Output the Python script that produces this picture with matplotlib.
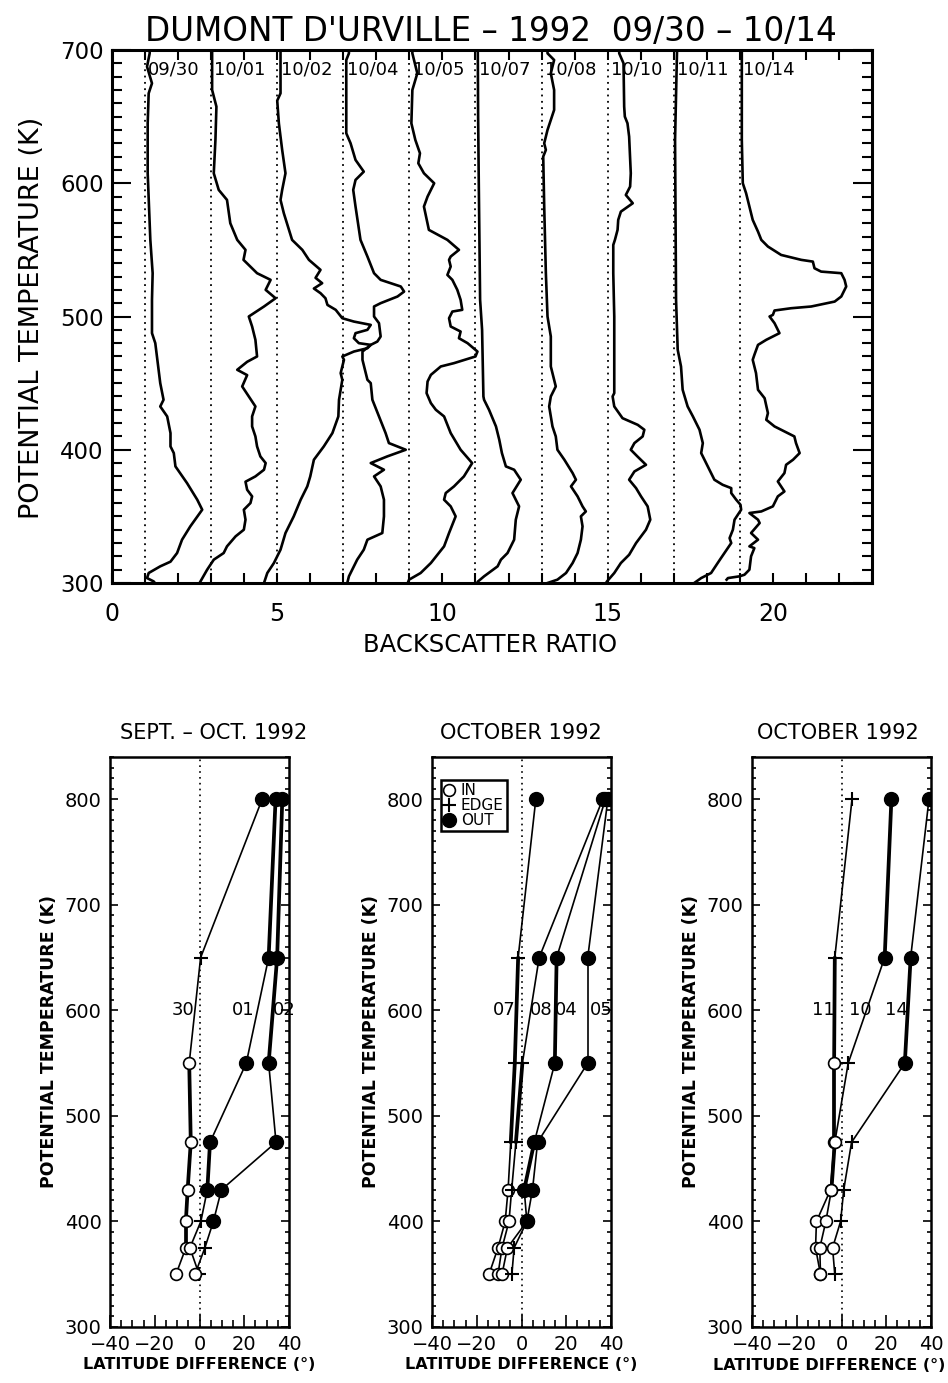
import matplotlib.pyplot as plt
from matplotlib.ticker import MultipleLocator
from matplotlib.lines import Line2D

plt.rcParams['font.family'] = ['DejaVu Sans']

# ---- top panel: backscatter ratio profiles (each shifted by 2) ----
dates = ["09/30", "10/01", "10/02", "10/04", "10/05", "10/07", "10/08", "10/10", "10/11", "10/14"]

th_0930 = [700, 697.5, 687.5, 675, 667.5, 645, 607.5, 557.5, 532.5, 512.5, 487.5, 480, 450, 437.5, 432.5,
           425, 412.5, 402.5, 397.5, 387.5, 375, 362.5, 355, 342.5, 332.5, 322.5, 316, 312.5, 307.5, 303.7,
           301.2, 300]
r_0930 = [1.14, 1.14, 1.06, 1.21, 1.11, 1.08, 1.08, 1.16, 1.23, 1.21, 1.21, 1.31, 1.46, 1.56, 1.46,
          1.67, 1.77, 1.77, 1.87, 1.92, 2.27, 2.58, 2.73, 2.37, 2.12, 1.97, 1.77, 1.46, 1.11, 1.06,
          1.26, 1.3]

th_1001 = [700, 697.5, 670, 657.5, 632.5, 607.5, 595, 587.5, 570, 557.5, 550, 542.5, 532.5, 527.5, 520,
           513.7, 507.5, 500, 492.5, 482.5, 470, 466, 460, 456, 447.5, 440, 432.5, 425, 417.5, 410, 402.5,
           395, 390, 385, 380, 376, 370, 365, 360, 355, 347.5, 340, 335, 327.5, 322.5, 317.5, 310, 300]
r_1001 = [1.03, 1.03, 1.03, 1.16, 1.13, 1.08, 1.23, 1.48, 1.58, 1.79, 2.04, 1.98, 2.39, 2.8, 2.65,
          2.95, 2.6, 2.14, 2.24, 2.34, 2.39, 2.09, 1.79, 2.09, 1.94, 2.14, 2.34, 2.24, 2.24, 2.34, 2.39,
          2.49, 2.65, 2.6, 2.34, 2.04, 2.09, 2.24, 2.19, 1.99, 2.04, 1.99, 1.74, 1.48, 1.38, 1.08, 0.88, 0.65]

th_1002 = [700, 697.5, 667.5, 662, 645, 625, 607.5, 595, 587.5, 577.5, 557.5, 550, 542.5, 535, 529, 525,
           521, 517.5, 513.7, 508.7, 505, 498.7, 496.2, 493.7, 490, 487.5, 483.7, 480, 478.7, 476.2, 473.7,
           470, 467.5, 462.5, 457.5, 452.5, 437.5, 425, 412.5, 402.5, 392.5, 380, 372.5, 362.5, 350, 337.5,
           325, 315, 307.5, 300]
r_1002 = [1.1, 1.1, 1.1, 1.0, 1.05, 1.15, 1.25, 1.15, 1.1, 1.2, 1.45, 1.76, 1.96, 2.31, 2.16, 2.36,
          2.11, 2.31, 2.46, 2.52, 2.77, 2.97, 3.32, 3.83, 3.73, 3.37, 3.32, 3.47, 3.83, 3.73, 3.32,
          2.97, 3.02, 2.97, 2.92, 2.97, 2.87, 2.85, 2.67, 2.41, 2.11, 2.0, 1.91, 1.71, 1.5, 1.25,
          1.1, 0.9, 0.7, 0.6]

th_1004 = [700, 697.5, 692.5, 637.5, 630, 617.5, 608.7, 602.5, 595, 582.5, 557.5, 545, 532.5, 527.5,
           522.5, 518.7, 515, 510, 507.5, 500, 495, 485, 481.2, 478.7, 473.7, 467.5, 457.5, 452.5, 450,
           437.5, 425, 412.5, 405, 400, 395, 390, 385, 380, 372.5, 362.5, 350, 337.5, 332.5, 325, 317.5,
           312.5, 305, 300]
r_1004 = [1.17, 1.17, 1.09, 1.09, 1.22, 1.37, 1.62, 1.37, 1.3, 1.37, 1.52, 1.73, 1.93, 2.13,
          2.74, 2.84, 2.64, 2.13, 1.93, 1.93, 2.08, 2.13, 2.03, 1.83, 1.58, 1.58, 1.68, 1.73, 1.83,
          1.88, 2.08, 2.28, 2.38, 2.89, 2.33, 1.83, 2.23, 1.93, 2.13, 2.23, 2.23, 2.18, 1.73, 1.62, 1.42,
          1.32, 1.17, 1.12]

th_1005 = [700, 697.5, 682.5, 670, 645, 632.5, 622.5, 615, 607.5, 600, 590, 582.5, 565, 557.5, 550, 545,
           542.5, 537.5, 531.2, 527.5, 520, 512.5, 505, 503.7, 498.7, 492.5, 488.7, 483.7, 480, 473.7, 470,
           465, 462.5, 456.2, 451.2, 442.5, 435, 430, 425, 412.5, 400, 390, 380, 372.5, 367.5, 362.5,
           357.5, 350, 337.5, 327.5, 315, 307.5, 302.5, 300]
r_1005 = [1.09, 1.09, 1.24, 1.09, 1.06, 1.18, 1.32, 1.27, 1.44, 1.75, 1.55, 1.44, 1.59, 2.15, 2.5, 2.25,
          2.2, 2.25, 2.15, 2.3, 2.45, 2.55, 2.6, 2.3, 2.2, 2.25, 2.55, 2.5, 2.76, 3.06, 3.0,
          2.35, 1.95, 1.65, 1.55, 1.52, 1.65, 1.8, 2.05, 2.25, 2.55, 2.9, 2.65, 2.35, 2.1, 2.05,
          2.25, 2.4, 2.2, 2.05, 1.65, 1.34, 0.99, 0.95]

th_1007 = [700, 650, 600, 512.5, 490, 440, 437.5, 430, 417.5, 407.5, 397.5, 387.5, 385, 377.5, 367.5,
           357.5, 347.5, 332.5, 322.5, 317.5, 312.5, 305, 301, 300]
r_1007 = [1.07, 1.08, 1.1, 1.14, 1.2, 1.24, 1.26, 1.41, 1.62, 1.72, 1.8, 1.92, 2.17, 2.37, 2.12,
          2.32, 2.22, 2.17, 1.97, 1.77, 1.67, 1.26, 1.07, 1.05]

th_1008 = [700, 697.5, 692.5, 682.5, 670, 655, 647.5, 640, 630, 625, 620, 582.5, 532.5, 500, 485, 462.5,
           447.5, 440, 432.5, 417.5, 410, 400, 392.5, 382.5, 377.5, 372.5, 365, 357.5, 353.7, 350, 342.5,
           332.5, 322.5, 315, 307.5, 302.5, 300]
r_1008 = [1.18, 1.18, 1.38, 1.28, 1.38, 1.38, 1.28, 1.18, 1.08, 1.13, 1.05, 1.08, 1.13, 1.18, 1.28, 1.28,
          1.43, 1.28, 1.23, 1.33, 1.43, 1.48, 1.69, 1.94, 2.04, 1.89, 2.09, 2.24, 2.34, 2.19, 2.24,
          2.19, 2.09, 1.94, 1.74, 1.48, 1.18]

th_1010 = [700, 697.5, 690, 657.5, 650, 645, 635, 607.5, 597.5, 591.2, 585, 578.7, 572.5, 565, 557.5,
           553.7, 532.5, 500, 442.5, 440, 432.5, 423.7, 418.7, 415, 410, 405, 400, 395, 388.7, 383.7,
           377.5, 371.2, 365, 357.5, 347.5, 340, 330, 321.2, 315, 307.5, 301.2, 300]
r_1010 = [1.35, 1.35, 1.48, 1.5, 1.52, 1.6, 1.65, 1.7, 1.68, 1.55, 1.76, 1.4, 1.32, 1.3, 1.22,
          1.17, 1.17, 1.2, 1.2, 1.15, 1.2, 1.45, 1.91, 2.11, 2.06, 1.81, 1.7, 1.9, 2.16, 1.81,
          1.65, 1.86, 2.01, 2.21, 2.29, 2.16, 1.86, 1.65, 1.4, 1.2, 0.98, 0.95]

th_1011 = [700, 632.5, 512.5, 475, 462.5, 445, 432.5, 425, 415, 405, 397.5, 392.5, 385, 377.5, 373.7,
           371.2, 367.5, 362.5, 358.7, 355, 347.5, 340, 333.7, 330, 318.7, 315, 307.5, 303.7, 300]
r_1011 = [1.1, 1.04, 1.07, 1.12, 1.22, 1.27, 1.42, 1.58, 1.78, 1.88, 1.83, 1.93, 2.08, 2.23, 2.48,
          2.74, 2.74, 2.89, 3.02, 3.04, 2.84, 2.79, 2.69, 2.74, 2.43, 2.33, 2.13, 1.83, 1.62]

th_1014 = [700, 632.5, 600, 592.5, 582.5, 572.5, 563.7, 557.5, 552.5, 546.2, 542.5, 541.2, 536.2, 533.7,
           532.5, 527.5, 522.5, 515, 511.2, 507.5, 506.2, 504.5, 501.2, 500, 495, 487.5, 482.5, 478.7,
           471.2, 467.5, 457.5, 445, 438.7, 427.5, 422.5, 417.5, 412.5, 410, 405, 397.5, 392.5, 388.7,
           382.5, 376.2, 368.7, 365, 357.5, 353.7, 352.5, 347.5, 345, 337.5, 332.5, 327.5, 326.2, 320,
           310, 306.2, 305, 303.7, 302.5]
r_1014 = [1.06, 1.06, 1.09, 1.19, 1.29, 1.39, 1.55, 1.65, 1.85, 2.25, 2.86, 3.21, 3.26, 3.46,
          4.07, 4.17, 4.22, 4.07, 3.87, 3.16, 2.55, 2.05, 2.0, 1.9, 2.05, 2.2, 1.8, 1.55,
          1.44, 1.39, 1.49, 1.55, 1.75, 1.85, 1.8, 2.05, 2.45, 2.65, 2.7, 2.81, 2.61, 2.4,
          2.35, 2.15, 2.35, 2.15, 2.0, 1.65, 1.29, 1.55, 1.6, 1.34, 1.55, 1.29, 1.44, 1.34,
          1.29, 1.14, 0.99, 0.64, 0.6]

profiles = [(th_0930, r_0930), (th_1001, r_1001), (th_1002, r_1002), (th_1004, r_1004),
            (th_1005, r_1005), (th_1007, r_1007), (th_1008, r_1008), (th_1010, r_1010),
            (th_1011, r_1011), (th_1014, r_1014)]

# ---- bottom panels: latitude difference vs potential temperature ----
# point types: I = in vortex, E = edge, O = out
lev = [800, 650, 550, 475, 430, 400, 375, 350]

lat_0930 = [28, 0.5, -4.6, -3.9, -5.3, -6.1, -6.1, -10.5]
typ_0930 = "OEIIIIII"
lat_1001 = [34, 30.9, 20.9, 4.7, 3.5, 0.6, -4.3, -0.2]
typ_1001 = "OOOOOEIE"
lat_1002 = [37, 34.7, 30.9, 34.2, 9.8, 6.2, 2.4, -2.0]
typ_1002 = "OOOOOOEI"

lat_1007 = [6.4, -1.5, -3.0, -4.8, -6.0, -7.3, -10.5, -14.5]
typ_1007 = "OEEEIIII"
lat_1008 = [36.3, 7.9, 0.4, -2.5, -4.4, -5.6, -8.7, -10.5]
typ_1008 = "OOEEEIII"
lat_1004 = [37.5, 15.7, 14.9, 5.7, 1.2, 2.4, -6.3, -8.7]
typ_1004 = "OOOOOOII"
lat_1005 = [38.6, 29.6, 29.6, 7.2, 4.9, 2.4, -3.3, -4.3]
typ_1005 = "OOOOOOEE"

lat_1011 = [4.7, -3.0, -3.3, -3.3, -4.9, -11.2, -11.6, -9.4]
typ_1011 = "EEIIIIII"
lat_1010 = [22.3, 19.3, 3.0, -3.0, -4.5, -7.0, -9.7, -9.4]
typ_1010 = "OOEIIIII"
lat_1014 = [39.1, 30.9, 28.3, 4.5, 1.0, -0.4, -4.0, -3.0]
typ_1014 = "OOOEEEIE"

# thin / thick segment widths (between consecutive levels)
T, K = 1.2, 2.7
panels = [
    ("SEPT. \u2013 OCT. 1992", 214,
     [(lat_0930, typ_0930, [T, T, K, K, K, K, T]),
      (lat_1001, typ_1001, [K, T, T, K, T, T, T]),
      (lat_1002, typ_1002, [K, K, T, T, T, T, T])],
     [("30", -7.5), ("01", 19.7), ("02", 37.7)]),
    ("OCTOBER 1992", 521,
     [(lat_1007, typ_1007, [T, K, K, T, T, T, T]),
      (lat_1008, typ_1008, [T, T, K, T, T, T, T]),
      (lat_1004, typ_1004, [T, K, T, K, T, T, T]),
      (lat_1005, typ_1005, [T, T, T, T, T, T, T])],
     [("07", -7.8), ("08", 8.7), ("04", 19.9), ("05", 35.6)]),
    ("OCTOBER 1992", 838,
     [(lat_1011, typ_1011, [T, K, K, T, T, T, T]),
      (lat_1010, typ_1010, [K, T, T, K, T, T, T]),
      (lat_1014, typ_1014, [T, K, T, T, T, T, T])],
     [("11", -8.3), ("10", 8.5), ("14", 24.5)]),
]

W, H = 948, 1383
fig = plt.figure(figsize=(W / 100, H / 100), dpi=100)


def box(l, t, r, b):
    return [l / W, 1 - b / H, (r - l) / W, (b - t) / H]


ax = fig.add_axes(box(112, 50, 872, 583))
for i, (th, r) in enumerate(profiles):
    ax.axvline(1 + 2 * i, color='black', lw=1.3, ls=(0, (1, 2.5)))
    ax.plot([v + 2 * i for v in r], th, color='black', lw=1.9)
    ax.text(1 + 2 * i + 0.1, 685, dates[i], fontsize=13, ha='left', va='center')
ax.set_xlim(0, 23)
ax.set_ylim(300, 700)
ax.xaxis.set_major_locator(MultipleLocator(5))
ax.xaxis.set_minor_locator(MultipleLocator(1))
ax.yaxis.set_major_locator(MultipleLocator(100))
ax.yaxis.set_minor_locator(MultipleLocator(10))
ax.tick_params(which='both', direction='in', top=True, right=True, width=1.5)
ax.tick_params(axis='x', which='both', length=7, labelsize=17, pad=14)
ax.tick_params(axis='y', which='major', length=14, labelsize=16.5, pad=6)
ax.tick_params(axis='y', which='minor', length=7)
for s in ax.spines.values():
    s.set_linewidth(2.2)
fig.text(491 / W, 1 - 31 / H, "DUMONT D'URVILLE \u2013 1992  09/30 \u2013 10/14", fontsize=23.5,
         ha='center', va='center')
fig.text(32 / W, 1 - 318 / H, "POTENTIAL TEMPERATURE (K)", fontsize=19.5, rotation=90,
         ha='center', va='center')
fig.text(490 / W, 1 - 645 / H, "BACKSCATTER RATIO", fontsize=17.5, ha='center', va='center')

styles = {'I': dict(marker='o', mfc='white', mec='black', ms=8.5, mew=1.2),
          'E': dict(marker='+', mec='black', ms=10, mew=1.5),
          'O': dict(marker='o', mfc='black', mec='black', ms=10)}

lefts = [110, 432, 752]
for k, (title, tx, days, labels) in enumerate(panels):
    l = lefts[k]
    bx = fig.add_axes(box(l, 757, l + 179, 1327))
    bx.axvline(0, color='black', lw=1.2, ls=(0, (1, 2.5)))
    for lat, typ, widths in days:
        for j, w in enumerate(widths):
            bx.plot(lat[j:j + 2], lev[j:j + 2], color='black', lw=w, zorder=2,
                    solid_capstyle='round')
        for x, y, t in zip(lat, lev, typ):
            bx.plot(x, y, ls='none', zorder=3, **styles[t])
    for name, x in labels:
        bx.text(x, 600, name, fontsize=13, ha='center', va='center')
    bx.set_xlim(-40, 40)
    bx.set_ylim(300, 840)
    bx.xaxis.set_major_locator(MultipleLocator(20))
    bx.xaxis.set_minor_locator(MultipleLocator(5))
    bx.yaxis.set_major_locator(MultipleLocator(100))
    bx.yaxis.set_minor_locator(MultipleLocator(10))
    bx.tick_params(which='both', direction='in', right=True, width=1.2)
    bx.tick_params(axis='x', which='major', length=9, labelsize=14, pad=6)
    bx.tick_params(axis='x', which='minor', length=5)
    bx.tick_params(axis='y', which='major', length=6, labelsize=14, pad=6)
    bx.tick_params(axis='y', which='minor', length=3)
    for s in bx.spines.values():
        s.set_linewidth(1.8)
    fig.text(tx / W, 1 - 733 / H, title, fontsize=15, ha='center', va='center')
    bx.set_xlabel("LATITUDE DIFFERENCE (\u00b0)", fontsize=11.5, fontweight='bold', labelpad=2)
    if k == 2:
        # keep the label inside the figure edge
        bx.xaxis.set_label_coords(0.43, -0.055)
    bx.set_ylabel("POTENTIAL TEMPERATURE (K)", fontsize=12.5, fontweight='bold', labelpad=5)
    if k == 1:
        handles = [Line2D([], [], ls='none', **styles['I']), Line2D([], [], ls='none', **styles['E']),
                   Line2D([], [], ls='none', **styles['O'])]
        leg = bx.legend(handles, ["IN", "EDGE", "OUT"], loc='upper left', fontsize=11,
                        bbox_to_anchor=(0.05, 0.96), borderaxespad=0, handlelength=0.7,
                        handletextpad=0.4, borderpad=0.2, labelspacing=0.0, fancybox=False,
                        framealpha=1, edgecolor='black')
        leg.get_frame().set_linewidth(1.8)

fig.savefig("out.png", dpi=100)
